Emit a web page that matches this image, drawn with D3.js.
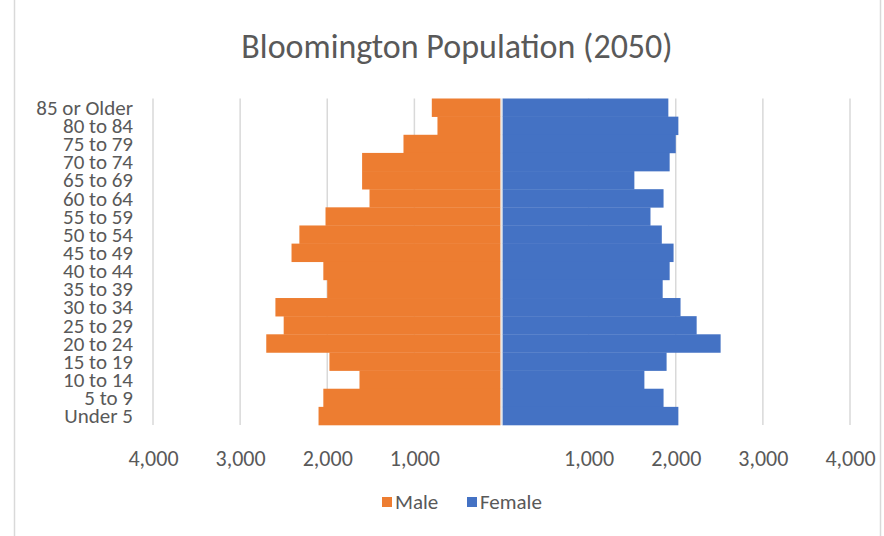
<!DOCTYPE html>
<html>
<head>
<meta charset="utf-8">
<script src="https://cdn.jsdelivr.net/npm/d3@7"></script>
<style>
  html, body { margin: 0; padding: 0; background: #fff; }
  svg { display: block; }
  text { font-family: Carlito, Calibri, Lato, "Open Sans", sans-serif; fill: #595959; }
</style>
</head>
<body>
<svg id="chart" width="884" height="536"></svg>
<script>
const title = "Bloomington Population (2050)";
const categories = ["85 or Older","80 to 84","75 to 79","70 to 74","65 to 69","60 to 64","55 to 59","50 to 54","45 to 49","40 to 44","35 to 39","30 to 34","25 to 29","20 to 24","15 to 19","10 to 14","5 to 9","Under 5"];
const male   = [800, 735, 1125, 1600, 1600, 1515, 2020, 2320, 2410, 2045, 2000, 2595, 2500, 2700, 1975, 1630, 2045, 2100];
const female = [1915, 2030, 2000, 1930, 1525, 1860, 1710, 1840, 1975, 1930, 1850, 2055, 2240, 2515, 1895, 1640, 1860, 2030];
const tickValues = [-4000, -3000, -2000, -1000, 0, 1000, 2000, 3000, 4000];
const seriesNames = ["Male", "Female"];
const colors = ["#ED7D31", "#4472C4"];

const svg = d3.select("#chart");

// frame
svg.append("rect").attr("x", 14.5).attr("y", -2).attr("width", 866).attr("height", 545)
  .attr("fill", "none").attr("stroke", "#d9d9d9").attr("stroke-width", 1.5);

const x = d3.scaleLinear().domain([-4000, 4000]).range([153, 850]);
const y = d3.scaleBand().domain(categories).range([98.5, 425]).padding(0);

// gridlines
svg.append("g").selectAll("line").data(tickValues.filter(v => v !== 0)).join("line")
  .attr("x1", d => x(d)).attr("x2", d => x(d))
  .attr("y1", y.range()[0]).attr("y2", y.range()[1])
  .attr("stroke", "#d9d9d9").attr("stroke-width", 1.5);

// bars
svg.append("g").selectAll("rect").data(categories).join("rect")
  .attr("x", (d, i) => x(-male[i]))
  .attr("y", d => y(d))
  .attr("width", (d, i) => x(0) - 1 - x(-male[i]))
  .attr("height", y.bandwidth() + 0.3)
  .attr("fill", colors[0]);

svg.append("g").selectAll("rect").data(categories).join("rect")
  .attr("x", x(0) + 1)
  .attr("y", d => y(d))
  .attr("width", (d, i) => x(female[i]) - x(0) - 1)
  .attr("height", y.bandwidth() + 0.3)
  .attr("fill", colors[1]);

// zero axis line
svg.append("line").attr("x1", x(0)).attr("x2", x(0))
  .attr("y1", y.range()[0]).attr("y2", y.range()[1])
  .attr("stroke", "#e6e6e6").attr("stroke-width", 1.5);

// y axis labels
const yAxis = d3.axisLeft(y).tickSize(0).tickPadding(0);
const gy = svg.append("g").attr("transform", "translate(133,0)").call(yAxis);
gy.select(".domain").remove();
gy.selectAll("text").style("font-size", "21px").attr("fill", "#595959").attr("dy", "0.35em")
  .style("font-family", "Carlito, Calibri, Lato, sans-serif");

// x axis labels
const fmt = d3.format(",");
const xAxis = d3.axisBottom(x).tickValues(tickValues).tickSize(0).tickPadding(0)
  .tickFormat(d => d === 0 ? "" : fmt(Math.abs(d)));
const gx = svg.append("g").attr("transform", "translate(0,458)").call(xAxis);
gx.select(".domain").remove();
gx.selectAll("text").style("font-size", "22px").attr("fill", "#595959").attr("dy", "0.35em")
  .style("font-family", "Carlito, Calibri, Lato, sans-serif");

// title
svg.append("text").attr("x", 457).attr("y", 58).attr("text-anchor", "middle")
  .style("font-size", "34px").text(title);

// legend
const legend = svg.append("g").attr("transform", "translate(0,502)");
const legX = [382, 467];
seriesNames.forEach((name, i) => {
  legend.append("rect").attr("x", legX[i]).attr("y", -5).attr("width", 10).attr("height", 10).attr("fill", colors[i]);
  legend.append("text").attr("x", legX[i] + 13).attr("y", 0).attr("dy", "0.35em")
    .style("font-size", "21px").text(name);
});
</script>
</body>
</html>
